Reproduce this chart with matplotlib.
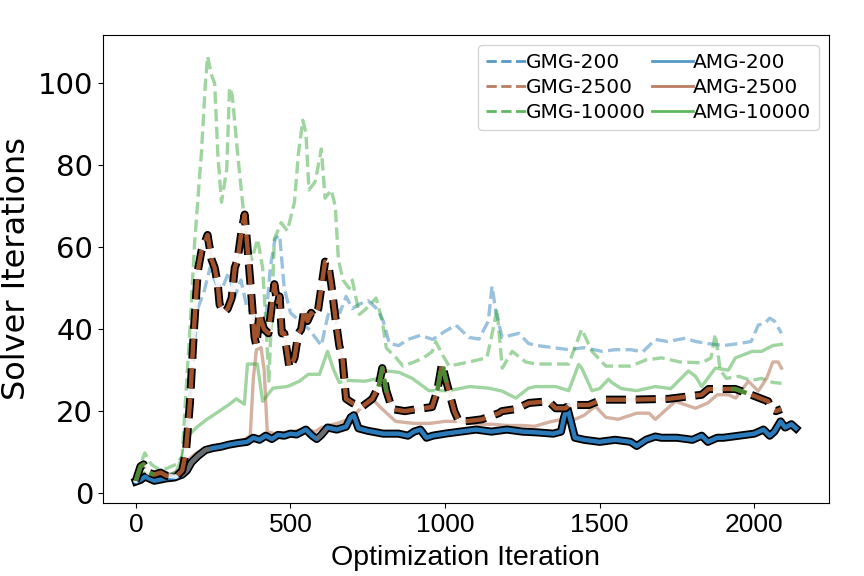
import numpy as np
import matplotlib
matplotlib.use("Agg")
import matplotlib.pyplot as plt
import matplotlib.patheffects as pe
from matplotlib.lines import Line2D
from matplotlib import font_manager

# values (x = optimization iteration)
gmg200_x = [0, 30, 60, 100, 140, 160, 180, 200, 220, 240, 260, 280, 300, 320, 340, 360, 380, 400, 420, 435,
            450, 465, 480, 500, 530, 560, 580, 600, 620, 640, 660, 680, 700, 720, 750, 780, 800, 820, 850, 880,
            920, 960, 1000, 1035, 1077, 1110, 1140, 1152, 1165, 1185, 1239, 1270, 1300, 1350, 1400, 1450, 1507,
            1550, 1600, 1640, 1680, 1720, 1777, 1810, 1850, 1900, 1950, 1990, 2013, 2035, 2050, 2065, 2088]
gmg200_y = [3.0, 5.0, 4.5, 4.5, 5.0, 10.0, 28.0, 45.0, 49.0, 55.0, 51.0, 50.0, 54.0, 48.0, 52.0, 45.0, 44.0,
            38.0, 42.0, 55.0, 62.0, 63.0, 50.0, 44.0, 42.0, 40.0, 38.0, 36.0, 43.0, 47.0, 44.0, 48.0, 45.0, 46.0,
            47.0, 45.0, 42.0, 36.5, 36.0, 37.5, 38.5, 37.5, 39.5, 41.0, 38.0, 37.6, 42.0, 50.5, 44.0, 38.0, 39.0,
            36.5, 36.0, 35.5, 35.0, 35.5, 34.6, 35.0, 35.0, 34.5, 37.5, 37.0, 37.8, 37.0, 36.5, 36.0, 36.5, 37.0,
            41.0, 41.5, 42.7, 42.0, 39.0]

gmg2500_x = [0, 15, 25, 40, 60, 80, 100, 130, 150, 162, 175, 188, 200, 212, 232, 245, 255, 265, 271, 285,
             297, 310, 320, 329, 342, 352, 361, 374, 384, 390, 400, 406, 415, 429, 448, 458, 465, 472, 480, 497,
             513, 526, 535, 545, 555, 567, 577, 590, 612, 622, 632, 645, 658, 668, 680, 700, 730, 765, 785, 797,
             810, 829, 870, 910, 958, 975, 990, 1005, 1030, 1045, 1077, 1119, 1174, 1184, 1229, 1271, 1335, 1358,
             1390, 1400, 1465, 1507, 1600, 1723, 1830, 1852, 1939, 1990, 2024, 2045, 2055, 2070, 2088]
gmg2500_y = [3.0, 6.5, 7.0, 5.0, 4.5, 5.0, 4.2, 4.0, 5.5, 10.0, 22.0, 40.0, 54.0, 59.0, 63.0, 57.0, 55.0,
             51.0, 46.0, 44.0, 45.0, 47.6, 55.0, 57.0, 64.0, 68.0, 60.0, 48.0, 38.0, 36.0, 44.0, 42.0, 40.0,
             39.0, 51.0, 46.0, 48.0, 39.0, 39.0, 30.5, 33.0, 39.0, 40.0, 45.0, 42.0, 44.0, 43.0, 45.0, 56.5,
             56.0, 51.0, 43.0, 36.0, 33.0, 23.0, 22.0, 21.0, 23.0, 26.0, 30.5, 25.0, 20.5, 20.0, 20.5, 21.0,
             25.0, 31.5, 27.0, 20.0, 17.5, 17.6, 18.0, 19.5, 20.0, 20.5, 22.0, 22.4, 20.7, 20.7, 21.5, 21.5,
             22.8, 22.8, 23.0, 24.0, 25.4, 25.4, 24.0, 23.0, 22.4, 20.5, 20.0, 20.5]

gmg10000_x = [0, 29, 50, 70, 100, 130, 150, 160, 175, 190, 212, 225, 232, 245, 255, 265, 277, 294, 303, 312,
              329, 345, 358, 375, 394, 410, 422, 430, 440, 448, 470, 490, 513, 526, 540, 550, 560, 580, 600, 612,
              632, 645, 655, 670, 690, 700, 723, 745, 777, 797, 810, 842, 864, 900, 930, 958, 970, 990, 1013,
              1077, 1135, 1150, 1168, 1185, 1217, 1261, 1294, 1400, 1442, 1475, 1520, 1600, 1650, 1700, 1760,
              1830, 1860, 1874, 1890, 1910, 1950, 1990, 2024, 2060, 2088]
gmg10000_y = [4.0, 9.8, 7.0, 6.0, 6.0, 7.0, 9.0, 22.0, 40.0, 61.0, 83.0, 100.0, 106.6, 102.0, 100.0, 83.0,
              71.0, 79.0, 99.0, 97.0, 83.0, 71.0, 62.0, 57.0, 62.0, 55.0, 40.0, 27.0, 45.0, 62.0, 66.0, 64.0,
              71.0, 83.0, 91.0, 88.0, 74.0, 76.0, 84.0, 72.0, 74.0, 70.0, 57.0, 52.0, 50.0, 52.0, 43.6, 45.0,
              47.6, 42.0, 35.4, 33.0, 31.0, 32.0, 33.0, 34.5, 37.0, 34.0, 31.0, 32.0, 33.0, 38.0, 45.0, 30.5,
              34.6, 32.0, 31.5, 31.5, 40.0, 34.6, 31.0, 31.0, 32.5, 33.0, 32.0, 31.8, 33.0, 38.8, 30.0, 28.0,
              28.5, 27.5, 28.0, 27.0, 26.8]

amg200_x = [0, 15, 30, 45, 60, 80, 100, 125, 150, 165, 180, 200, 225, 250, 275, 300, 330, 360, 380, 400,
            420, 440, 460, 480, 500, 520, 550, 570, 585, 600, 620, 650, 680, 695, 705, 720, 750, 800, 850, 880,
            900, 920, 940, 960, 1000, 1050, 1100, 1150, 1200, 1250, 1300, 1350, 1375, 1385, 1395, 1405, 1420,
            1450, 1500, 1550, 1600, 1620, 1650, 1680, 1700, 1750, 1800, 1830, 1850, 1880, 1900, 1950, 2000,
            2030, 2050, 2065, 2085, 2100, 2120, 2135]
amg200_y = [2.8, 3.2, 4.0, 3.5, 3.0, 3.3, 3.6, 3.8, 4.5, 5.5, 7.5, 9.0, 10.5, 11.0, 11.3, 11.8, 12.2, 12.5,
            13.5, 13.0, 14.0, 13.2, 14.2, 14.0, 14.5, 14.3, 15.5, 14.0, 13.2, 14.2, 16.0, 15.5, 16.2, 18.5,
            19.0, 15.8, 15.2, 14.5, 14.5, 14.0, 15.0, 15.5, 13.5, 14.0, 14.5, 15.0, 15.5, 15.0, 15.5, 15.0,
            14.8, 14.5, 15.0, 18.5, 21.0, 18.0, 13.5, 13.0, 12.5, 13.0, 12.5, 11.5, 13.0, 13.8, 13.5, 13.5,
            13.0, 14.0, 12.5, 13.5, 13.5, 14.0, 14.5, 15.5, 14.0, 15.0, 17.5, 16.0, 16.8, 15.8]

amg2500_x = [0, 30, 60, 100, 150, 175, 200, 250, 300, 350, 370, 380, 390, 405, 415, 425, 450, 500, 550, 580,
             600, 650, 700, 730, 765, 790, 840, 900, 950, 1000, 1050, 1110, 1150, 1200, 1250, 1290, 1340, 1380,
             1420, 1450, 1486, 1520, 1560, 1620, 1660, 1680, 1745, 1810, 1850, 1880, 1916, 1940, 1981, 2013,
             2040, 2060, 2077, 2088]
amg2500_y = [3.0, 4.0, 3.5, 4.0, 6.0, 8.5, 10.0, 11.5, 12.0, 13.0, 14.0, 28.0, 35.0, 35.5, 30.0, 15.0, 14.5,
             15.0, 15.5, 15.0, 16.0, 17.0, 18.3, 21.0, 23.0, 21.0, 17.5, 17.0, 17.0, 17.5, 17.5, 16.8, 16.8,
             16.5, 16.5, 16.3, 17.4, 18.0, 18.0, 19.0, 21.2, 18.5, 18.0, 19.5, 19.5, 18.0, 22.4, 20.7, 22.0,
             24.0, 24.0, 23.2, 27.3, 24.9, 28.0, 32.0, 32.0, 30.5]

amg10000_x = [0, 30, 60, 100, 130, 150, 170, 196, 230, 270, 303, 325, 351, 361, 393, 410, 443, 490, 529, 558,
              594, 620, 640, 658, 690, 740, 787, 809, 850, 894, 948, 1013, 1080, 1142, 1184, 1229, 1270, 1294,
              1358, 1400, 1432, 1442, 1475, 1500, 1529, 1539, 1570, 1620, 1680, 1730, 1787, 1810, 1830, 1874,
              1916, 1939, 1994, 2024, 2060, 2088]
amg10000_y = [3.0, 5.0, 4.0, 4.0, 5.0, 9.0, 14.0, 16.0, 18.0, 20.0, 21.7, 23.0, 21.7, 31.5, 31.5, 22.4, 25.6,
              26.0, 27.3, 29.0, 29.0, 34.6, 30.0, 27.0, 27.5, 27.3, 28.0, 29.8, 29.5, 28.0, 25.0, 25.0, 26.0,
              25.6, 24.9, 23.2, 25.6, 26.0, 26.0, 25.0, 31.4, 30.5, 25.0, 25.5, 27.8, 27.0, 25.5, 25.0, 26.0,
              25.5, 29.8, 28.5, 26.0, 30.5, 30.0, 33.0, 34.6, 34.6, 36.0, 36.3]

# stretches of the bold lines drawn in another colour
gmg_bold_green = [(0, 60), (785, 812), (975, 1005), (1925, 1975)]
amg_bold_gray = [(140, 240), (585, 615)]

labels = ["GMG-200", "GMG-2500", "GMG-10000", "AMG-200", "AMG-2500", "AMG-10000"]
colors = ["#1f77b4", "#a0522d", "#2ca02c"]


def piece(x, y, lo, hi):
    x = np.asarray(x, float)
    y = np.asarray(y, float)
    keep = (x > lo) & (x < hi)
    xs = np.concatenate([[lo], x[keep], [hi]])
    ys = np.concatenate([[np.interp(lo, x, y)], y[keep], [np.interp(hi, x, y)]])
    return xs, ys


# the x-axis texts in the reference are narrow; use a narrow face if one is installed
installed = {f.name for f in font_manager.fontManager.ttflist}
narrow_size = (21, 23)
if "Liberation Sans Narrow" in installed:
    narrow = "Liberation Sans Narrow"
elif "DejaVu Sans Condensed" in installed:
    narrow = "DejaVu Sans Condensed"
    narrow_size = (18, 20)
elif "Liberation Sans" in installed:
    narrow = "Liberation Sans"
    narrow_size = (19, 20.5)
else:
    narrow = "DejaVu Sans"
    narrow_size = (16, 17)

fig = plt.figure(figsize=(8.64, 5.76), dpi=100)
ax = fig.add_axes([0.119, 0.127, 0.8405, 0.812])

gmg = [(gmg200_x, gmg200_y), (gmg2500_x, gmg2500_y), (gmg10000_x, gmg10000_y)]
amg = [(amg200_x, amg200_y), (amg2500_x, amg2500_y), (amg10000_x, amg10000_y)]

for (x, y), c in zip(gmg, colors):
    ax.plot(x, y, color=c, ls="--", lw=2.4, alpha=0.45)
for (x, y), c in zip(amg, colors):
    ax.plot(x, y, color=c, ls="-", lw=2.4, alpha=0.45)

# bold AMG-200
outline = [pe.Stroke(linewidth=5.8, foreground="black"), pe.Normal()]
ax.plot(amg200_x, amg200_y, color="#2b7bba", lw=3.2, path_effects=outline)
for lo, hi in amg_bold_gray:
    xs, ys = piece(amg200_x, amg200_y, lo, hi)
    ax.plot(xs, ys, color="#6b6b6b", lw=3.2, solid_capstyle="butt")

# bold GMG-2500
ax.plot(gmg2500_x, gmg2500_y, color="white", lw=3.2, alpha=0.85)
dash = (0, (4.5, 2.2))
ax.plot(gmg2500_x, gmg2500_y, color="#a0522d", lw=3.2, ls=dash, path_effects=outline)
for lo, hi in gmg_bold_green:
    xs, ys = piece(gmg2500_x, gmg2500_y, lo, hi)
    ax.plot(xs, ys, color="#4b8a32", lw=3.2, ls=dash, dash_capstyle="butt")

handles = [Line2D([], [], color=c, ls="--", lw=2, alpha=0.75) for c in colors]
handles += [Line2D([], [], color=c, ls="-", lw=2, alpha=0.75) for c in colors]
ax.legend(handles, labels, loc="upper right", ncol=2, fontsize=14.5, handlelength=2.0,
          handletextpad=0.0, columnspacing=0.3, labelspacing=0.3)

ax.set_xticks([0, 500, 1000, 1500, 2000])
ax.set_yticks([0, 20, 40, 60, 80, 100])
for t in ax.get_xticklabels():
    t.set_fontsize(narrow_size[0])
    t.set_family(narrow)
for t in ax.get_yticklabels():
    t.set_fontsize(21)
ax.set_xlabel("Optimization Iteration", fontsize=narrow_size[1], family=narrow, labelpad=6)
ax.set_ylabel("Solver Iterations", fontsize=23)

fig.savefig("out.png", dpi=100)
